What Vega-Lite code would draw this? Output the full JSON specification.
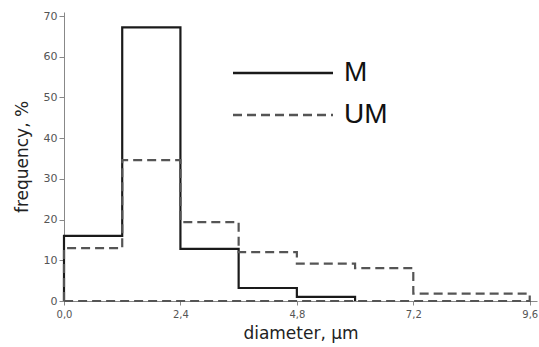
{
  "$schema": "https://vega.github.io/schema/vega-lite/v6.json",
  "width": 473,
  "height": 289,
  "autosize": {"type": "none"},
  "padding": {"left": 64, "top": 12, "right": 2, "bottom": 46},
  "background": "white",
  "data": {
    "values": [
      {"series": "M", "o": 0, "d": 0, "f": 0},
      {"series": "M", "o": 1, "d": 0, "f": 16},
      {"series": "M", "o": 2, "d": 1.2, "f": 67.2},
      {"series": "M", "o": 3, "d": 2.4, "f": 12.8},
      {"series": "M", "o": 4, "d": 3.6, "f": 3.2},
      {"series": "M", "o": 5, "d": 4.8, "f": 1},
      {"series": "M", "o": 6, "d": 6.0, "f": 0},
      {"series": "UM", "o": 0, "d": 0, "f": 0},
      {"series": "UM", "o": 1, "d": 0, "f": 13},
      {"series": "UM", "o": 2, "d": 1.2, "f": 34.6},
      {"series": "UM", "o": 3, "d": 2.4, "f": 19.4},
      {"series": "UM", "o": 4, "d": 3.6, "f": 12},
      {"series": "UM", "o": 5, "d": 4.8, "f": 9.2},
      {"series": "UM", "o": 6, "d": 6.0, "f": 8.1},
      {"series": "UM", "o": 7, "d": 7.2, "f": 1.8},
      {"series": "UM", "o": 8, "d": 8.4, "f": 1.8},
      {"series": "UM", "o": 9, "d": 9.6, "f": 0},
      {"series": "UM", "o": 10, "d": 0, "f": 0}
    ]
  },
  "mark": {"type": "line", "interpolate": "step-after", "clip": false, "strokeWidth": 2.2},
  "encoding": {
    "x": {
      "field": "d", "type": "quantitative",
      "scale": {"domain": [0, 9.75], "nice": false, "zero": true},
      "axis": {
        "values": [0, 2.4, 4.8, 7.2, 9.6],
        "labelExpr": "replace(format(datum.value, '.1f'), '.', ',')",
        "labelFlush": false,
        "title": "diameter, μm",
        "grid": false,
        "domainColor": "#888", "tickColor": "#888", "tickSize": 4,
        "labelColor": "#555", "labelFont": "DejaVu Sans", "labelFontSize": 10,
        "labelPadding": 4,
        "titleFont": "DejaVu Sans", "titleFontSize": 17, "titleFontWeight": "normal", "titleColor": "#222",
        "titlePadding": 6
      }
    },
    "y": {
      "field": "f", "type": "quantitative",
      "scale": {"domain": [0, 71], "nice": false},
      "axis": {
        "values": [0, 10, 20, 30, 40, 50, 60, 70],
        "title": "frequency, %",
        "grid": false,
        "domainColor": "#888", "tickColor": "#888", "tickSize": 5,
        "labelColor": "#555", "labelFont": "DejaVu Sans", "labelFontSize": 11,
        "labelPadding": 2,
        "titleFont": "DejaVu Sans", "titleFontSize": 17, "titleFontWeight": "normal", "titleColor": "#222",
        "titlePadding": 12
      }
    },
    "order": {"field": "o", "type": "quantitative"},
    "color": {
      "field": "series", "type": "nominal",
      "scale": {"domain": ["M", "UM"], "range": ["#1a1a1a", "#555555"]},
      "legend": {
        "orient": "none", "legendX": 205, "legendY": 47,
        "title": null,
        "symbolType": "M-5,0H5", "symbolSize": 400, "symbolStrokeWidth": 2.5,
        "labelFont": "Liberation Sans", "labelFontSize": 28, "labelColor": "#111",
        "labelOffset": 47, "rowPadding": 14, "labelLimit": 200
      }
    },
    "strokeDash": {
      "field": "series", "type": "nominal",
      "scale": {"domain": ["M", "UM"], "range": [[1, 0], [9, 5]]},
      "legend": {
        "orient": "none", "legendX": 205, "legendY": 47,
        "title": null,
        "symbolType": "M-5,0H5", "symbolSize": 400, "symbolStrokeWidth": 2.5,
        "labelFont": "Liberation Sans", "labelFontSize": 28, "labelColor": "#111",
        "labelOffset": 47, "rowPadding": 14, "labelLimit": 200
      }
    }
  },
  "config": {"view": {"stroke": null}}
}
